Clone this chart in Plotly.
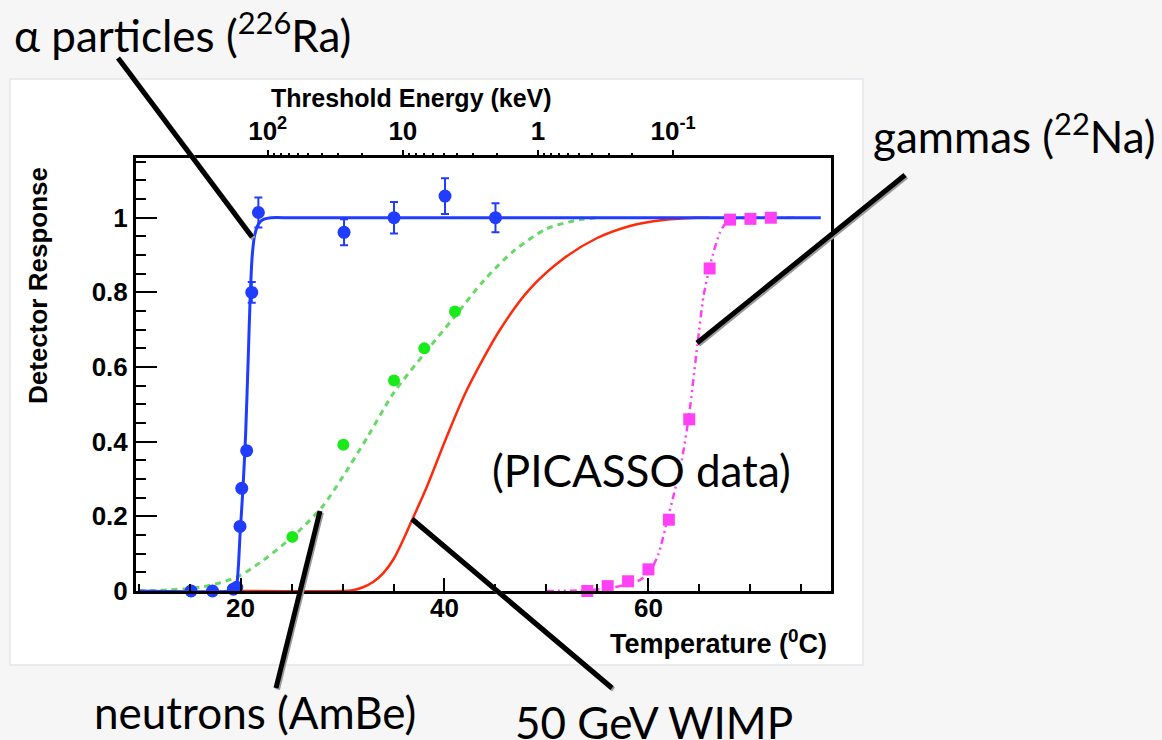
import plotly.graph_objects as go

# ---- data: detector response vs temperature ----
# alpha particles (226Ra), measured points and fit
alpha_T = [15.15, 17.25, 19.3, 19.63, 19.95, 20.12, 20.6, 21.1, 21.75, 30.15, 35.05, 40.05, 45.0]
alpha_R = [0.0, 0.0, 0.005, 0.01, 0.173, 0.275, 0.376, 0.80, 1.014, 0.961, 1.0, 1.058, 1.0]
alpha_err = [0, 0, 0, 0, 0, 0, 0, 0.028, 0.04, 0.035, 0.042, 0.048, 0.039]
alpha_fit_T = [10, 19.2, 19.45, 19.65, 19.8, 19.95, 20.25, 20.5, 20.75, 20.95, 21.15, 21.4, 21.8, 22.3, 23.0, 25.0, 76.9]
alpha_fit_R = [0, 0, 0.004, 0.02, 0.07, 0.15, 0.28, 0.42, 0.62, 0.79, 0.9, 0.955, 0.985, 0.996, 1.0, 1.0, 1.0]

# neutrons (AmBe)
neutron_T = [25.08, 30.08, 35.05, 38.02, 41.03]
neutron_R = [0.145, 0.392, 0.564, 0.65, 0.749]
neutron_fit_T = [10, 13, 16, 18, 20, 22, 24, 26, 28, 30, 32.5, 35, 38, 41, 43.8, 46.75, 50, 53.3, 55.05]
neutron_fit_R = [0, 0.003, 0.01, 0.022, 0.042, 0.078, 0.12, 0.168, 0.225, 0.305, 0.415, 0.53, 0.635, 0.735, 0.83, 0.91, 0.97, 0.995, 1.0]

# 50 GeV WIMP expectation
wimp_T = [20, 30.0, 31.0, 32.0, 33.0, 34.0, 35.0, 36.0, 36.8, 38.25, 40.2, 42.18, 45.44, 48.4, 51.65, 54.92, 58.19, 61.45, 64.75, 66.0]
wimp_R = [0, 0, 0.002, 0.01, 0.024, 0.048, 0.085, 0.14, 0.189, 0.278, 0.412, 0.538, 0.70, 0.81, 0.89, 0.945, 0.978, 0.994, 1.0, 1.0]

# gammas (22Na)
gamma_T = [54, 56, 58, 60, 62, 64, 66, 68, 70, 72]
gamma_R = [0.0, 0.013, 0.026, 0.058, 0.191, 0.46, 0.864, 0.995, 0.997, 1.0]
gamma_fit_T = [50, 54, 56, 57.5, 59.2, 60.2, 61.0, 61.85, 62.5, 63.2, 64.0, 64.8, 65.4, 66.2, 67.0, 67.7, 68.5, 70, 74.5]
gamma_fit_R = [0, 0.002, 0.007, 0.015, 0.03, 0.055, 0.1, 0.19, 0.26, 0.34, 0.475, 0.66, 0.79, 0.89, 0.96, 0.99, 0.998, 1.0, 1.0]

# top axis: threshold energy (keV)
energy_ticks = [100, 10, 1, 0.1]
energy_labels = ["10<sup>2</sup>", "10", "1", "10<sup>-1</sup>"]
energy_minor = [90, 80, 70, 60, 50, 40, 30, 20, 9, 8, 7, 6, 5, 4, 3, 2, 0.9, 0.8, 0.7, 0.6, 0.5, 0.4, 0.3, 0.2]

# ---- page geometry (pixels) ----
W, H = 1162, 740
L, R, T, B = 136, 831, 158, 591


def px(x):
    return (x - L) / (R - L)


def py(y):
    return (B - y) / (B - T)


BLUE = "#1f3cff"
GREEN_LINE = "#66d966"
GREEN_PT = "#19ea19"
RED = "#ff2a0a"
MAGENTA = "#ff40f5"
AXFONT = "Liberation Sans"

fig = go.Figure()

fig.add_trace(go.Scatter(x=neutron_fit_T, y=neutron_fit_R, mode="lines",
                         line=dict(color=GREEN_LINE, width=3, dash="6px,5px", shape="spline", smoothing=0.8),
                         hoverinfo="skip", showlegend=False))
fig.add_trace(go.Scatter(x=wimp_T, y=wimp_R, mode="lines",
                         line=dict(color=RED, width=2.5, shape="spline", smoothing=0.8),
                         hoverinfo="skip", showlegend=False))
fig.add_trace(go.Scatter(x=gamma_fit_T, y=gamma_fit_R, mode="lines",
                         line=dict(color=MAGENTA, width=2.5, dash="7px,4px,2px,4px,2px,4px", shape="spline", smoothing=0.6),
                         hoverinfo="skip", showlegend=False))
fig.add_trace(go.Scatter(x=alpha_fit_T, y=alpha_fit_R, mode="lines",
                         line=dict(color=BLUE, width=3, shape="spline", smoothing=0.6),
                         hoverinfo="skip", showlegend=False))

fig.add_trace(go.Scatter(x=neutron_T, y=neutron_R, mode="markers",
                         marker=dict(color=GREEN_PT, size=12, symbol="circle"),
                         cliponaxis=False, showlegend=False))
fig.add_trace(go.Scatter(x=gamma_T, y=gamma_R, mode="markers",
                         marker=dict(color=MAGENTA, size=12, symbol="square"),
                         cliponaxis=False, showlegend=False))
fig.add_trace(go.Scatter(x=alpha_T, y=alpha_R, mode="markers",
                         marker=dict(color=BLUE, size=13, symbol="circle"),
                         error_y=dict(type="data", array=alpha_err, color=BLUE, thickness=2, width=4),
                         cliponaxis=False, showlegend=False))

# anchor trace for the top energy axis
fig.add_trace(go.Scatter(x=energy_ticks, y=[None] * len(energy_ticks), xaxis="x2", mode="markers",
                         hoverinfo="skip", showlegend=False))

tickfont = dict(family=AXFONT, size=26, color="black", weight="bold")

fig.update_layout(
    width=W, height=H,
    margin=dict(l=L, r=W - R, t=T, b=H - B, pad=0),
    paper_bgcolor="#f6f6f6",
    plot_bgcolor="white",
    xaxis=dict(range=[9.75, 77.9], showgrid=False, zeroline=False,
               showline=True, linecolor="black", linewidth=3, mirror=True,
               ticks="inside", ticklen=13, tickwidth=2, tickcolor="black",
               tickmode="array", tickvals=[20, 40, 60], ticktext=["20", "40", "60"],
               minor=dict(ticks="inside", ticklen=7, tickwidth=2, tickcolor="black",
                          tickmode="array", tickvals=[10, 15, 25, 30, 35, 45, 50, 55, 65, 70, 75]),
               tickfont=tickfont, ticklabelstandoff=-8),
    xaxis2=dict(type="log", overlaying="x", side="top", range=[2.975, -2.169],
                showgrid=False, zeroline=False, showline=False,
                ticks="outside", ticklen=7, tickwidth=2, tickcolor="black",
                tickmode="array", tickvals=energy_ticks, ticktext=energy_labels,
                minor=dict(ticks="outside", ticklen=4, tickwidth=1.5, tickcolor="black",
                           tickmode="array", tickvals=energy_minor),
                tickfont=tickfont),
    yaxis=dict(range=[0, 1.16], showgrid=False, zeroline=False,
               showline=True, linecolor="black", linewidth=3, mirror=True,
               ticks="inside", ticklen=21, tickwidth=2, tickcolor="black",
               tickmode="array", tickvals=[0, 0.2, 0.4, 0.6, 0.8, 1.0],
               ticktext=["0", "0.2", "0.4", "0.6", "0.8", "1"],
               minor=dict(ticks="inside", ticklen=10, tickwidth=2, tickcolor="black",
                          tickmode="array", tickvals=[0.05, 0.1, 0.15, 0.25, 0.3, 0.35, 0.45, 0.5, 0.55,
                                                      0.65, 0.7, 0.75, 0.85, 0.9, 0.95, 1.05, 1.1, 1.15]),
               tickfont=tickfont),
)

# white panel behind the plot
fig.add_shape(type="rect", xref="paper", yref="paper", layer="below",
              x0=px(10), x1=px(863), y0=py(665), y1=py(79),
              fillcolor="white", line=dict(color="#e3e6ec", width=1.5))

# axis titles
fig.add_annotation(xref="paper", yref="paper", x=px(411), y=py(98), text="Threshold Energy (keV)",
                   showarrow=False, xanchor="center", yanchor="middle",
                   font=dict(family=AXFONT, size=25, color="black", weight="bold"))
fig.add_annotation(xref="paper", yref="paper", x=px(38), y=py(286), text="Detector Response",
                   showarrow=False, textangle=-90, xanchor="center", yanchor="middle",
                   font=dict(family=AXFONT, size=26, color="black", weight="bold"))
fig.add_annotation(xref="paper", yref="paper", x=px(829), y=py(642), text="Temperature (<sup>0</sup>C)",
                   showarrow=False, xanchor="right", yanchor="middle",
                   font=dict(family=AXFONT, size=27, color="black", weight="bold"))

# callout labels
LABEL = dict(family="Lato", size=44, color="black")
labels = [
    ("α particles (<sup>226</sup>Ra)", 12, 32, "left"),
    ("gammas (<sup>22</sup>Na)", 1158, 133, "right"),
    ("neutrons (AmBe)", 92, 712, "left"),
    ("50 GeV WIMP", 513, 722, "left"),
    ("(PICASSO data)", 490, 470, "left"),
]
for text, x, y, anchor in labels:
    fig.add_annotation(xref="paper", yref="paper", x=px(x), y=py(y), text=text,
                       showarrow=False, xanchor=anchor, yanchor="middle", font=LABEL)

# callout lines (with a faint drop shadow)
callouts = [
    ((118, 58), (252, 237)),
    ((905, 175), (697, 343)),
    ((320, 511), (276, 688)),
    ((412, 519), (612, 688)),
]
for (x0, y0), (x1, y1) in callouts:
    fig.add_shape(type="line", xref="paper", yref="paper",
                  x0=px(x0 + 1.5), y0=py(y0 + 1.5), x1=px(x1 + 1.5), y1=py(y1 + 1.5),
                  line=dict(color="#9a9a9a", width=5))
    fig.add_shape(type="line", xref="paper", yref="paper",
                  x0=px(x0), y0=py(y0), x1=px(x1), y1=py(y1),
                  line=dict(color="black", width=5))

fig.write_html("out.html")
